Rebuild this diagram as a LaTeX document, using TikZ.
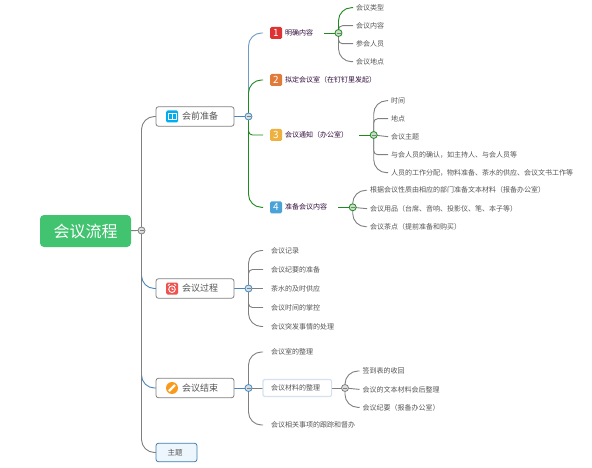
\documentclass[tikz,border=0pt]{standalone}
\usepackage{fontspec}
\setmainfont{Noto Sans CJK SC}
\usepackage{xcolor}
\usetikzlibrary{positioning,backgrounds}
\definecolor{rootgreen}{RGB}{65,195,111}
\definecolor{linegray}{RGB}{128,128,128}
\definecolor{lineblue}{RGB}{74,135,184}
\definecolor{paleblue}{RGB}{109,156,200}
\definecolor{linegreen}{RGB}{30,138,30}
\definecolor{subtext}{RGB}{48,14,60}
\definecolor{leaftext}{RGB}{85,85,85}
\definecolor{selblue}{RGB}{213,225,240}
\definecolor{tagfill}{RGB}{238,246,253}
\definecolor{tagline}{RGB}{61,126,176}
\definecolor{numred}{RGB}{221,51,51}
\definecolor{numorange}{RGB}{224,123,58}
\definecolor{numyellow}{RGB}{238,177,63}
\definecolor{numblue}{RGB}{74,163,216}
\definecolor{bookcyan}{RGB}{0,174,239}
\definecolor{clockred}{RGB}{239,83,80}
\definecolor{pencilorange}{RGB}{249,154,28}
\newcommand{\topictext}[1]{\hspace{10pt}\raisebox{-2pt}{#1}}

\begin{document}
\begin{tikzpicture}[
    x=1pt, y=-1pt,
    outer sep=0pt,
    root/.style={rectangle, fill=rootgreen, rounded corners=4pt, minimum width=91pt, minimum height=32pt, inner sep=0pt, text=white, font=\fontsize{16}{16}\selectfont},
    topic/.style={rectangle, draw=linegray, line width=0.8pt, fill=white, rounded corners=2.5pt, minimum width=78pt, minimum height=19.5pt, inner sep=0pt, text=leaftext, font=\fontsize{9}{9}\selectfont},
    tag/.style={rectangle, draw=tagline, line width=0.8pt, fill=tagfill, rounded corners=2.5pt, minimum width=41pt, minimum height=18.5pt, inner sep=0pt, text=leaftext, font=\fontsize{7.5}{8}\selectfont},
    sub/.style={inner sep=0pt, text=subtext, font=\fontsize{7}{8}\selectfont},
    leaf/.style={inner xsep=3pt, inner ysep=1pt, text=leaftext, font=\fontsize{7}{8}\selectfont},
    wideleaf/.style={leaf, inner xsep=8pt},
    selected/.style={wideleaf, draw=selblue, line width=1.2pt, fill=white, rounded corners=1.5pt, text width=52.6pt, minimum height=17pt, align=left},
    numbox/.style={rectangle, rounded corners=1.5pt, minimum size=12pt, inner sep=0pt, text=white, font=\fontsize{10}{10}\selectfont},
    iconbox/.style={rectangle, rounded corners=1.5pt, minimum size=12pt, inner sep=0pt},
    fold/.style={circle, draw=#1, line width=0.8pt, fill=#1!25!white, minimum size=7pt, inner sep=0pt,
        path picture={\draw[linegray, line width=0.9pt] ([xshift=1.5pt]path picture bounding box.west) -- ([xshift=-1.5pt]path picture bounding box.east);}},
    farbar/.style={line width=0.9pt, rounded corners=13pt},
    nearbar/.style={line width=0.9pt, rounded corners=4pt},
    stem/.style={line width=0.9pt}
]
    \path[use as bounding box] (0,0) rectangle (592,468);

    % Root
    \node[root] (root) at (85.5,231) {会议流程};
    \node[fold=linegray, right=7pt of root, yshift=0.5pt] (fold0) {};

    % Main topics
    \node[topic, right=11pt of fold0, yshift=114pt] (prep) {\topictext{会前准备}};
    \node[topic, right=11pt of fold0, yshift=-58pt] (during) {\topictext{会议过程}};
    \node[topic, right=11pt of fold0, yshift=-157.5pt] (after) {\topictext{会议结束}};
    \node[tag, right=11pt of fold0, yshift=-222pt] (theme) {\hspace{-3pt}主题};

    % Topic icons
    \node[iconbox, fill=bookcyan, right=10pt of prep.west] (bookicon) {};
    \draw[white, line width=1pt, shift={(bookicon.center)}] (-4,-3) rectangle (4,3) (0,-3) -- (0,3);
    \node[iconbox, fill=clockred, right=10pt of during.west] (clockicon) {};
    \draw[white, line width=0.9pt, shift={(clockicon.center)}] (0,0.7) circle (3.3) (-4,-3) -- (-2.2,-4.4) (4,-3) -- (2.2,-4.4) (0,-1) -- (0,0.7) -- (1.4,1.2);
    \node[circle, fill=pencilorange, minimum size=12pt, inner sep=0pt, right=10pt of after.west] (pencilicon) {};
    \draw[white, line width=2.2pt, shift={(pencilicon.center)}] (-3,3) -- (3,-3);

    % Preparation path
    \node[fold=lineblue, right=11pt of prep] (foldprep) {};
    \node[numbox, fill=numred, right=18pt of foldprep, yshift=83.5pt] (num1) {1};
    \node[numbox, fill=numorange, right=18pt of foldprep, yshift=36.5pt] (num2) {2};
    \node[numbox, fill=numyellow, right=18pt of foldprep, yshift=-18.5pt] (num3) {3};
    \node[numbox, fill=numblue, right=18pt of foldprep, yshift=-90.8pt] (num4) {4};
    \node[sub, right=3pt of num1] (content) {明确内容};
    \node[sub, right=3pt of num2] (room) {拟定会议室（在钉钉里发起）};
    \node[sub, right=3pt of num3] (notice) {会议通知（办公室）};
    \node[sub, right=3pt of num4] (material) {准备会议内容};

    % Content details
    \node[fold=linegreen, right=22pt of content] (foldcontent) {};
    \node[leaf, right=11pt of foldcontent, yshift=25.3pt] (kind) {会议类型};
    \node[leaf, right=11pt of foldcontent, yshift=7.3pt] (agenda) {会议内容};
    \node[leaf, right=11pt of foldcontent, yshift=-10.7pt] (people) {参会人员};
    \node[leaf, right=11pt of foldcontent, yshift=-28.7pt] (place) {会议地点};

    % Notice details
    \node[fold=linegreen, right=22.2pt of notice] (foldnotice) {};
    \node[leaf, right=11pt of foldnotice, yshift=34.3pt] (time) {时间};
    \node[leaf, right=11pt of foldnotice, yshift=16.3pt] (site) {地点};
    \node[leaf, right=11pt of foldnotice, yshift=-1.7pt] (subject) {会议主题};
    \node[leaf, right=11pt of foldnotice, yshift=-19.7pt] (confirm) {与会人员的确认，如主持人、与会人员等};
    \node[leaf, right=11pt of foldnotice, yshift=-37.7pt] (duty) {人员的工作分配，物料准备、茶水的供应、会议文书工作等};

    % Material details
    \node[fold=linegreen, right=22.2pt of material] (foldmaterial) {};
    \node[leaf, right=11pt of foldmaterial, yshift=17pt] (docs) {根据会议性质由相应的部门准备文本材料（报备办公室）};
    \node[leaf, right=11pt of foldmaterial, yshift=-1.4pt] (goods) {会议用品（台席、音响、投影仪、笔、本子等）};
    \node[leaf, right=11pt of foldmaterial, yshift=-19.4pt] (snack) {会议茶点（提前准备和购买）};

    % During path
    \node[fold=lineblue, right=11pt of during] (foldduring) {};
    \node[wideleaf, right=11pt of foldduring, yshift=38pt] (record) {会议记录};
    \node[wideleaf, right=11pt of foldduring, yshift=19pt] (minutes) {会议纪要的准备};
    \node[wideleaf, right=11pt of foldduring, yshift=0pt] (tea) {茶水的及时供应};
    \node[wideleaf, right=11pt of foldduring, yshift=-19pt] (clock) {会议时间的掌控};
    \node[wideleaf, right=11pt of foldduring, yshift=-38pt] (incident) {会议突发事情的处理};

    % After path
    \node[fold=lineblue, right=11pt of after] (foldafter) {};
    \node[wideleaf, right=11pt of foldafter, yshift=36pt] (tidy) {会议室的整理};
    \node[selected, right=11pt of foldafter] (sort) {会议材料的整理};
    \node[wideleaf, right=11pt of foldafter, yshift=-37pt] (follow) {会议相关事项的跟踪和督办};
    \node[fold=linegray, right=9.9pt of sort] (foldsort) {};
    \node[leaf, right=11pt of foldsort, yshift=17pt] (sign) {签到表的收回};
    \node[leaf, right=11pt of foldsort, yshift=-1.4pt] (text) {会议的文本材料会后整理};
    \node[leaf, right=11pt of foldsort, yshift=-19.4pt] (summary) {会议纪要（报备办公室）};

    % Edges
    \begin{scope}[on background layer]
        \fill[white] (0,0) rectangle (592,468);
        \draw[stem, linegray] (root) -- (fold0);
        \draw[farbar, linegray] (fold0) |- (prep.west);
        \draw[farbar, lineblue] (fold0) |- (during.west);
        \draw[farbar, lineblue] (fold0) |- (after.west);
        \draw[farbar, linegray] (fold0) |- (theme.west);
        \draw[stem, linegray] (fold0) -- ++(0,200);

        \draw[stem, lineblue] (prep) -- (foldprep);
        \draw[farbar, paleblue] (foldprep) |- ([xshift=-7pt]num1.west);
        \draw[farbar, linegreen] (foldprep) |- ([xshift=-7pt]num2.west);
        \draw[nearbar, linegreen] (foldprep) |- ([xshift=-7pt]num3.west);
        \draw[farbar, linegreen] (foldprep) |- ([xshift=-7pt]num4.west);

        \draw[stem, linegreen] ([xshift=11pt]content.east) -- (foldcontent);
        \draw[farbar, linegray] (foldcontent) |- (place.west);
        \draw[nearbar, linegray] (foldcontent) |- (people.west);
        \draw[nearbar, linegray] (foldcontent) |- (agenda.west);
        \draw[farbar, linegreen] (foldcontent) |- (kind.west);

        \draw[stem, linegreen] ([xshift=11pt]notice.east) -- (foldnotice);
        \draw[farbar, linegray] (foldnotice) |- (time.west);
        \draw[nearbar, linegray] (foldnotice) |- (site.west);
        \draw[stem, linegray] (foldnotice) -- (subject.west);
        \draw[nearbar, linegray] (foldnotice) |- (confirm.west);
        \draw[farbar, linegray] (foldnotice) |- (duty.west);

        \draw[stem, linegreen] ([xshift=11pt]material.east) -- (foldmaterial);
        \draw[farbar, linegray] (foldmaterial) |- (docs.west);
        \draw[stem, linegray] (foldmaterial) -- (goods.west);
        \draw[farbar, linegray] (foldmaterial) |- (snack.west);

        \draw[stem, lineblue] (during) -- (foldduring);
        \draw[farbar, linegray] (foldduring) |- (record.west);
        \draw[nearbar, linegray] (foldduring) |- (minutes.west);
        \draw[stem, linegray] (foldduring) -- (tea.west);
        \draw[nearbar, linegray] (foldduring) |- (clock.west);
        \draw[farbar, linegray] (foldduring) |- (incident.west);

        \draw[stem, lineblue] (after) -- (foldafter);
        \draw[farbar, linegray] (foldafter) |- (tidy.west);
        \draw[stem, linegray] (foldafter) -- (sort);
        \draw[farbar, linegray] (foldafter) |- (follow.west);
        \draw[stem, linegray] (sort) -- (foldsort);
        \draw[farbar, linegray] (foldsort) |- (sign.west);
        \draw[stem, linegray] (foldsort) -- (text.west);
        \draw[farbar, linegray] (foldsort) |- (summary.west);
    \end{scope}
\end{tikzpicture}
\end{document}
